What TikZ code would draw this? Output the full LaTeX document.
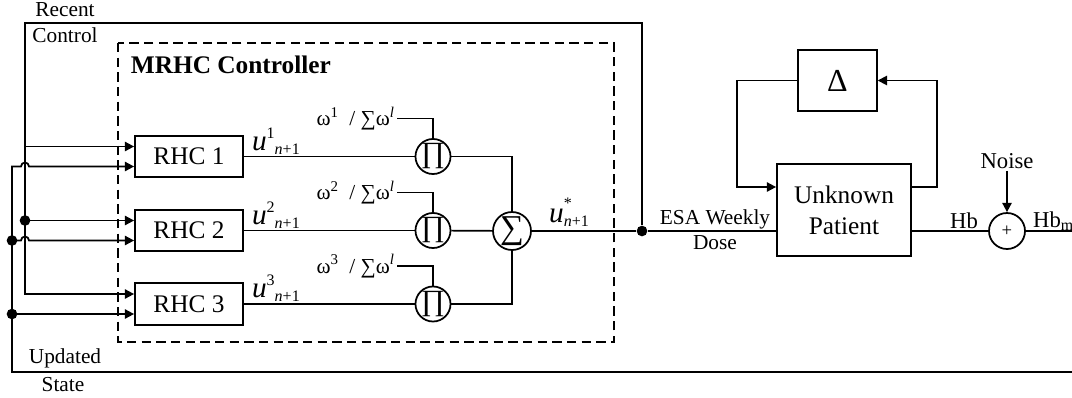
\documentclass[tikz,border=0pt]{standalone}
\usepackage{fontspec}
\setmainfont{Liberation Serif}
\usetikzlibrary{arrows.meta,positioning,calc}

\newcommand{\ulab}[1]{{\fontsize{22}{22}\selectfont\itshape u}{\fontsize{12}{12}\selectfont\raisebox{9pt}{#1}\raisebox{-3pt}{\itshape n\upshape+1}}}
\newcommand{\wlab}[1]{ω\textsuperscript{#1}\ \ /\ ∑ω\textsuperscript{\itshape l}}

\tikzset{
  block/.style={draw, minimum width=81pt, minimum height=31pt, inner sep=0pt,
    font=\fontsize{19}{23}\selectfont, align=center},
  opcirc/.style={draw, circle, inner sep=0pt},
  junct/.style={circle, fill, inner sep=0pt, minimum size=8pt},
  sig/.style={-{Triangle[length=7pt,width=7pt]}},
  lbl/.style={inner sep=1pt, font=\fontsize{16}{18}\selectfont},
}

\begin{document}
\begin{tikzpicture}[x=0.75pt,y=-0.75pt,line width=1.3pt]
  \useasboundingbox (0,0) rectangle (1072,397);
  % controller
  \draw[dash pattern=on 7pt off 4pt] (118,43) rectangle (614,342);
  \node[anchor=west, inner sep=0pt, font=\bfseries\fontsize{19}{21}\selectfont] (title) at (130,65) {MRHC Controller};
  \node[block] (rhc1) at (189,156.5) {RHC 1};
  \node[block] (rhc2) at (189,230.5) {RHC 2};
  \node[block] (rhc3) at (189,304) {RHC 3};
  \node[opcirc, minimum size=28.5pt, font=\fontsize{25}{25}\selectfont] (sig) at (512,231) {∑};
  \foreach \i in {1,2,3} {
    \node[opcirc, minimum size=25.5pt, font=\fontsize{22}{22}\selectfont] (pi\i) at (433,0 |- rhc\i) {∏};
    \node[lbl, anchor=east, font=\fontsize{16}{18}\selectfont] (w\i) at ($(pi\i)+(-36,-38)$) {\wlab{\i}};
    \node[lbl, anchor=south west] (u\i) at ($(rhc\i.east)+(6,0)$) {\ulab{\i}};
    \draw (rhc\i) -- (pi\i);
    \draw (w\i.east) -| (pi\i.north);
    \coordinate (r\i a) at ($(rhc\i.west)+(0,-10)$);
    \coordinate (r\i b) at ($(rhc\i.west)+(0,10)$);
  }
  \draw (pi1.east) -| (sig.north);
  \draw (pi2) -- (sig);
  \draw (pi3.east) -| (sig.south);
  \node[lbl, anchor=south] (ustar) at (569,229) {{\fontsize{22}{22}\selectfont\itshape u}{\fontsize{12}{12}\selectfont\makebox[0pt][l]{\raisebox{11pt}{*}}\raisebox{-3pt}{\itshape n\upshape+1}}};

  % plant
  \node[block, minimum width=100.5pt, minimum height=69pt] (patient) at (844,210) {Unknown\\Patient};
  \node[block, minimum width=59pt, minimum height=46pt, font=\fontsize{24}{24}\selectfont] (delta) at (837.5,80.5) {Δ};
  \node[opcirc, minimum size=27pt, font=\fontsize{14}{14}\selectfont] (sum) at (1007,231) {+};
  \node[lbl, font=\fontsize{17}{19}\selectfont] (noise) at (1007,161) {Noise};
  \node[lbl, font=\fontsize{17}{19}\selectfont] (hb) at (964,221) {Hb};
  \node[lbl, anchor=west, font=\fontsize{17}{19}\selectfont] (hbm) at (1031,221) {Hb\textsubscript{m}};
  \coordinate (ll) at (737,187);
  \coordinate (lr) at (937,187);
  \draw[sig] (delta.west) -| (ll) -- (patient.west |- ll);
  \draw[sig] (patient.east |- lr) -- (lr) |- (delta.east);
  \draw (patient.east |- sum) -- (sum);
  \draw[sig] (noise) -- (sum.north);
  \coordinate (hbout) at (1072,231);
  \draw (sum) -- (hbout);

  % dose and feedback
  \node[junct] (jn) at (642,231) {};
  \draw (sig) -- (jn) -- (patient.west |- jn);
  \node[lbl] (esa) at (715,219) {ESA Weekly};
  \node[lbl] (dose) at (715,243) {Dose};
  \coordinate (tl) at (25,23);
  \coordinate (bl) at (12,372);
  \coordinate (upd) at (1072,372);
  \draw[sig] (jn) |- (tl) |- (r3a);
  \draw[sig] (tl |- r1a) -- (r1a);
  \draw[sig] (tl |- r2a) -- (r2a);
  \draw[sig] (upd) -| (bl |- r1b) -- ($(tl |- r1b)+(-4,0)$) arc[start angle=180,end angle=360,radius=4] -- (r1b);
  \draw[sig] (bl |- r2b) -- ($(tl |- r2b)+(-4,0)$) arc[start angle=180,end angle=360,radius=4] -- (r2b);
  \draw[sig] (bl |- r3b) -- (r3b);
  \node[junct] at (tl |- r2a) {};
  \node[junct] at (bl |- r2b) {};
  \node[junct] at (bl |- r3b) {};
  \node[lbl] (recent) at (65,10) {Recent};
  \node[lbl] (control) at (65,35) {Control};
  \node[lbl] (updated) at (65,358) {Updated};
  \node[lbl] (state) at (63,385) {State};
\end{tikzpicture}
\end{document}
